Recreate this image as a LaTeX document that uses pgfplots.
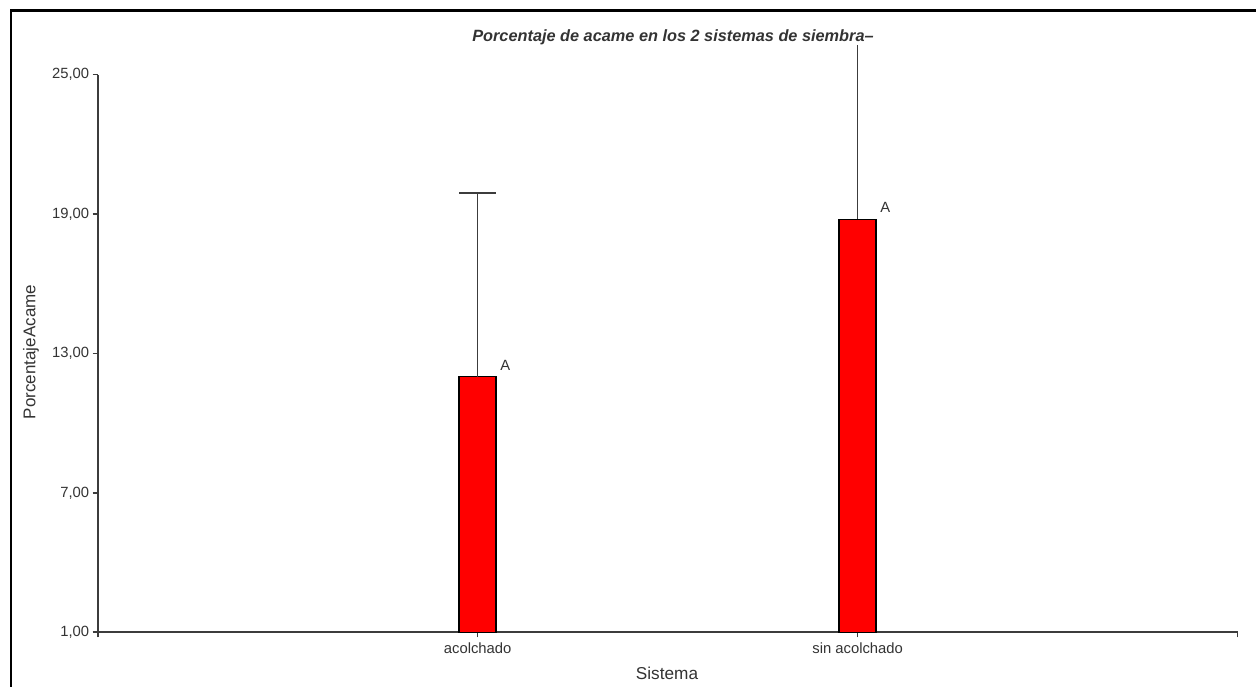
\documentclass[border=0pt]{standalone}
\usepackage{fontspec}
\setmainfont{Liberation Sans}
\usepackage{pgfplots}
\pgfplotsset{compat=1.18}
\definecolor{axgray}{HTML}{3C3C3C}
\definecolor{txtgray}{HTML}{333333}
\begin{document}
\begin{tikzpicture}
\useasboundingbox (0pt,0pt) rectangle (1256pt,687pt);
\draw[line width=2.4pt,black] (11pt,-2pt) -- (11pt,676.5pt) -- (1258pt,676.5pt);
\begin{axis}[
  at={(97.7pt,54.7pt)}, anchor=south west,
  scale only axis, width=1140pt, height=557.6pt,
  xmin=0, xmax=3, ymin=1, ymax=25,
  axis x line=bottom, axis y line=left,
  axis line style={-, draw=axgray, line width=1.7pt},
  tick style={draw=axgray, line width=1.6pt},
  tick align=outside, major tick length=5pt,
  xtick={0,1,2,3}, xticklabels={,acolchado,sin acolchado,},
  ytick={1,7,13,19,25},
  /pgf/number format/fixed,
  /pgf/number format/fixed zerofill,
  /pgf/number format/precision=2,
  /pgf/number format/use comma,
  /pgf/number format/assume math mode=true,
  ticklabel style={font=\fontsize{14.8}{16}\selectfont, text=txtgray},
  xticklabel style={yshift=-2pt},
  clip=false,
]
% bars
\addplot[ybar, bar width=37pt, bar shift=0pt, fill=red, draw=black, line width=1.4pt]
  coordinates {(1,12.0) (2,18.77)};
% error bars (upper half only)
\addplot[sharp plot, no markers, draw=axgray, line width=1.6pt] coordinates {(1,12.0) (1,19.9)};
\addplot[sharp plot, no markers, draw=axgray, line width=1.6pt] coordinates {(0.9513,19.9) (1.0487,19.9)};
\addplot[sharp plot, no markers, draw=axgray, line width=1.6pt] coordinates {(2,18.77) (2,26.27)};
\node[font=\fontsize{14.8}{16}\selectfont, text=txtgray] at (axis cs:1.073,12.5) {A};
\node[font=\fontsize{14.8}{16}\selectfont, text=txtgray] at (axis cs:2.073,19.3) {A};
\end{axis}
\node[font=\fontsize{16.3}{18}\selectfont\bfseries\itshape, text=txtgray] at (673pt,650pt) {Porcentaje de acame en los 2 sistemas de siembra--};
\node[font=\fontsize{17}{19}\selectfont, text=txtgray, rotate=90] at (31pt,335pt) {PorcentajeAcame};
\node[font=\fontsize{17.2}{19}\selectfont, text=txtgray] at (667pt,14pt) {Sistema};
\end{tikzpicture}
\end{document}
